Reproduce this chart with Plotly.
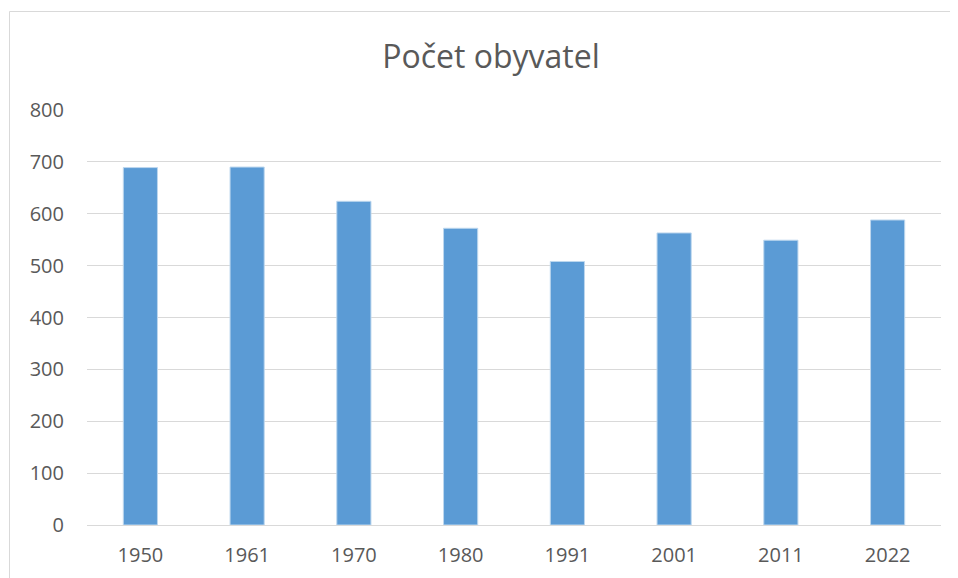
import plotly.graph_objects as go

years = ["1950", "1961", "1970", "1980", "1991", "2001", "2011", "2022"]
population = [689, 690, 624, 572, 508, 563, 549, 588]
y_ticks = [0, 100, 200, 300, 400, 500, 600, 700, 800]

# page body has an 8px margin, so the figure starts at (8, 8) in the window
OFF = 8
W, H = 950, 570
L, R, T, B = 87 - OFF, 17, 110 - OFF, 53
pw, ph = W - L - R, H - T - B

fig = go.Figure(go.Bar(
    x=years, y=population,
    marker=dict(color="#5B9BD5", line=dict(color="#BDD7EE", width=1)),
))

def px_x(x):
    return (x - OFF - L) / pw

def px_y(y):
    return (H - B - (y - OFF)) / ph

fig.add_shape(type="rect", xref="paper", yref="paper",
              x0=px_x(9.5), x1=px_x(975), y0=px_y(11.5), y1=px_y(600),
              line=dict(color="#D9D9D9", width=1), fillcolor="rgba(0,0,0,0)",
              layer="below")

fig.update_layout(
    width=W, height=H,
    margin=dict(l=L, r=R, t=T, b=B),
    paper_bgcolor="white", plot_bgcolor="white",
    bargap=0.68,
    showlegend=False,
    title=dict(text="Počet obyvatel", x=(491 - OFF) / W, xref="container", xanchor="center",
               y=1 - (57 - OFF) / H, yref="container", yanchor="middle",
               font=dict(family="Open Sans", size=32, color="#595959")),
    font=dict(family="Open Sans", size=20, color="#595959"),
    xaxis=dict(showgrid=False, showline=True, linecolor="#D9D9D9", linewidth=1,
               ticks="", ticklabelstandoff=12, automargin=False,
               tickfont=dict(size=20, color="#595959")),
    yaxis=dict(range=[0, 800], tickvals=y_ticks, showgrid=True, gridcolor="#D9D9D9",
               gridwidth=1, zeroline=False, showline=False, ticks="",
               ticklabelstandoff=22, automargin=False,
               tickfont=dict(size=20, color="#595959")),
)

fig.write_html("out.html")
